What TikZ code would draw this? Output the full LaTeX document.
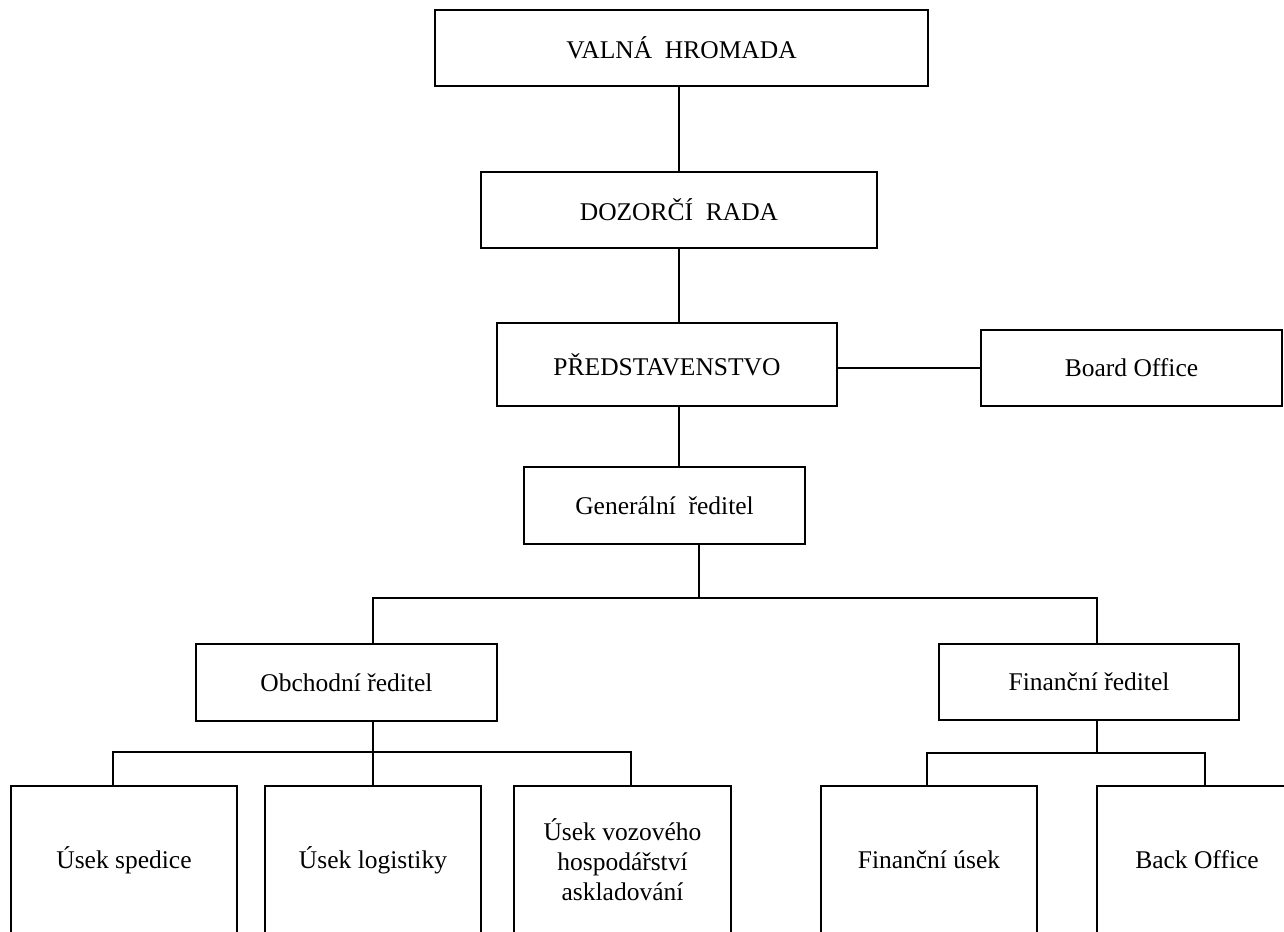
\documentclass[tikz,border=0pt]{standalone}
\usepackage{fontspec}
\setmainfont{Liberation Serif}
\usetikzlibrary{positioning, calc}

\begin{document}
\begin{tikzpicture}[
        x=1pt, y=-1pt,
        box/.style={draw, line width=1.8pt, inner sep=0pt, align=center, font=\fontsize{25.5pt}{30pt}\selectfont},
        dept/.style={box, minimum height=148pt},
        link/.style={line width=1.8pt}
    ]
        \useasboundingbox (0,0) rectangle (1284,931);
        \clip (0,0) rectangle (1284,931);

        % Top of the company
        \node[box, minimum width=493pt, minimum height=76pt] (valna) at (681.5,48) {VALNÁ\ \ HROMADA};
        \node[box, minimum width=396pt, minimum height=76pt] (dozor) at (679,210) {DOZORČÍ\ \ RADA};
        \node[box, minimum width=340pt, minimum height=83pt] (pred) at (667,364.5) {PŘEDSTAVENSTVO};
        \node[box, minimum width=301pt, minimum height=76pt] (board) at (1131.5,368) {Board Office};
        \node[box, minimum width=281pt, minimum height=77pt] (gen) at (664.5,505.5) {Generální\ \ ředitel};

        % Directors
        \node[box, minimum width=301pt, minimum height=77pt] (obch) at (346.5,682.5) {Obchodní ředitel};
        \node[box, minimum width=300pt, minimum height=76pt] (fin) at (1089,682) {Finanční ředitel};

        % Departments
        \node[dept, minimum width=226pt] (sped) at (124,860) {Úsek spedice};
        \node[dept, minimum width=216pt] (logi) at (373,860) {Úsek logistiky};
        \node[dept, minimum width=217pt] (vozo) at (622.5,860) {Úsek vozového\\hospodářství\\askladování};
        \node[dept, minimum width=216pt] (finu) at (929,860) {Finanční úsek};
        \node[dept, minimum width=200pt] (back) at (1197,860) {Back Office};

        % Bus points
        \coordinate (gbus) at (699,598);
        \coordinate (obus) at (373,598);
        \coordinate (fbus) at (1097,598);
        \coordinate (otee) at (373,752);
        \coordinate (o1) at (113,752);
        \coordinate (o3) at (631,752);
        \coordinate (ftee) at (1097,753);
        \coordinate (f1) at (927,753);
        \coordinate (f2) at (1205,753);

        % Lines
        \draw[link] (valna.south -| dozor.north) -- (dozor.north);
        \draw[link] (dozor.south) -- (dozor.south |- pred.north);
        \draw[link] (dozor.south |- pred.south) -- (dozor.south |- gen.north);
        \draw[link] (pred.east |- board.west) -- (board.west);
        \draw[link] (gen.south -| gbus) -- (gbus);
        \draw[link] (obus |- obch.north) -- (obus) -- (fbus) -- (fbus |- fin.north);
        \draw[link] (otee |- obch.south) -- (otee);
        \draw[link] (o1 |- sped.north) -- (o1) -- (o3) -- (o3 |- vozo.north);
        \draw[link] (otee) -- (logi.north);
        \draw[link] (ftee |- fin.south) -- (ftee);
        \draw[link] (f1 |- finu.north) -- (f1) -- (f2) -- (f2 |- back.north);
    \end{tikzpicture}
\end{document}
